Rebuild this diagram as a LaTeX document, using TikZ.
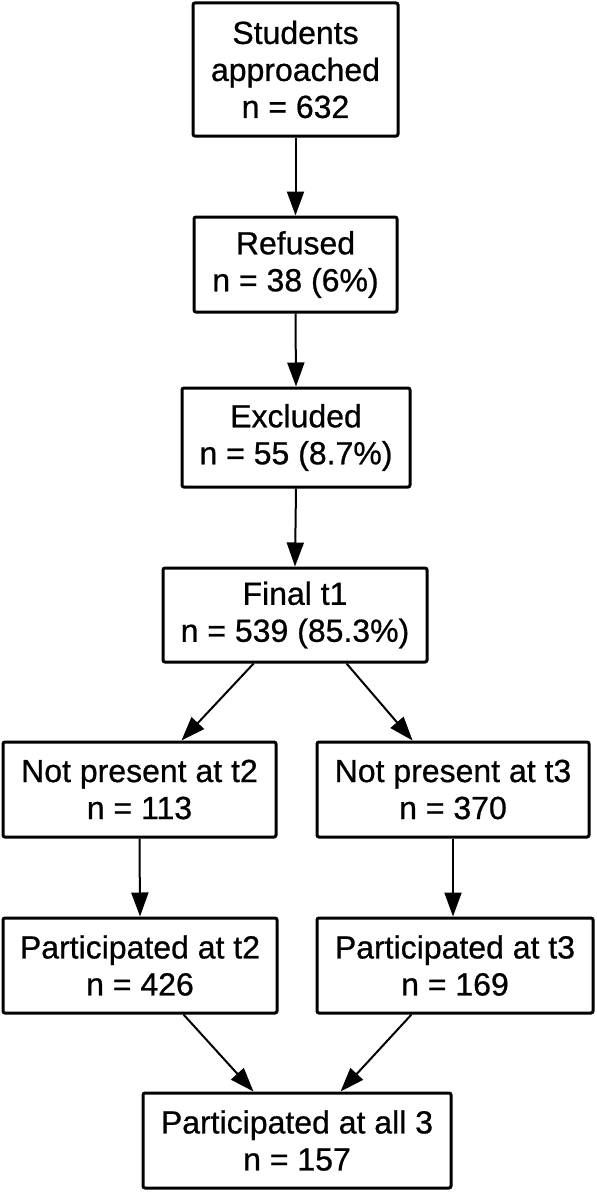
\documentclass[tikz,border=0pt]{standalone}
\usepackage{fontspec}
\setmainfont{Liberation Sans}
\newfontfamily\boxfont{Liberation Sans}[FakeBold=0.7]
\usetikzlibrary{arrows.meta,calc}

\begin{document}
\begin{tikzpicture}[
    x=0.5pt, y=-0.5pt,
    box/.style={draw, line width=1.5pt, rounded corners=1pt, align=center, inner sep=0pt,
        font=\boxfont\fontsize{16}{18.5}\selectfont},
    flow/.style={-{Triangle[length=12pt,width=8.5pt]}, line width=1pt},
]
    \useasboundingbox (0,0) rectangle (597,1193);
    % Main chain
    \node[box, minimum width=102.5pt, minimum height=66.5pt] (appr) at (295.5,69.5) {Students\\approached\\n = 632};
    \node[box, minimum width=101.5pt, minimum height=47.5pt] (refused) at (295.5,264.5) {Refused\\n = 38 (6\%)};
    \node[box, minimum width=114pt, minimum height=49.5pt] (excl) at (296,437.5) {Excluded\\n = 55 (8.7\%)};
    \node[box, minimum width=132pt, minimum height=47pt] (final) at (295,615) {Final t1\\n = 539 (85.3\%)};
    % Follow-up branches
    \node[box, minimum width=136.5pt, minimum height=47.5pt] (np2) at (139.5,789.5) {Not present at t2\\n = 113};
    \node[box, minimum width=136pt, minimum height=47.5pt] (np3) at (453,789.5) {Not present at t3\\n = 370};
    \node[box, minimum width=137pt, minimum height=47.5pt] (part2) at (140,965.5) {Participated at t2\\n = 426};
    \node[box, minimum width=138pt, minimum height=47.5pt] (part3) at (455,965.5) {Participated at t3\\n = 169};
    \node[box, minimum width=154pt, minimum height=47.5pt] (all3) at (297,1140.5) {Participated at all 3\\n = 157};
    % Straight arrows
    \foreach \a/\b in {appr/refused, refused/excl, excl/final, np2/part2} {
        \draw[flow] (\a.south) -- (\b.north);
    }
    \draw[flow] (np3.south) -- (np3.south |- part3.north);
    % Slanted arrows
    \foreach \a/\fa/\b/\fb in {final/0.345/np2/0.652, final/0.693/np3/0.353,
                               part2/0.657/all3/0.36, part3/0.344/all3/0.64} {
        \draw[flow] ($(\a.south west)!\fa!(\a.south east)$) -- ($(\b.north west)!\fb!(\b.north east)$);
    }
\end{tikzpicture}
\end{document}
